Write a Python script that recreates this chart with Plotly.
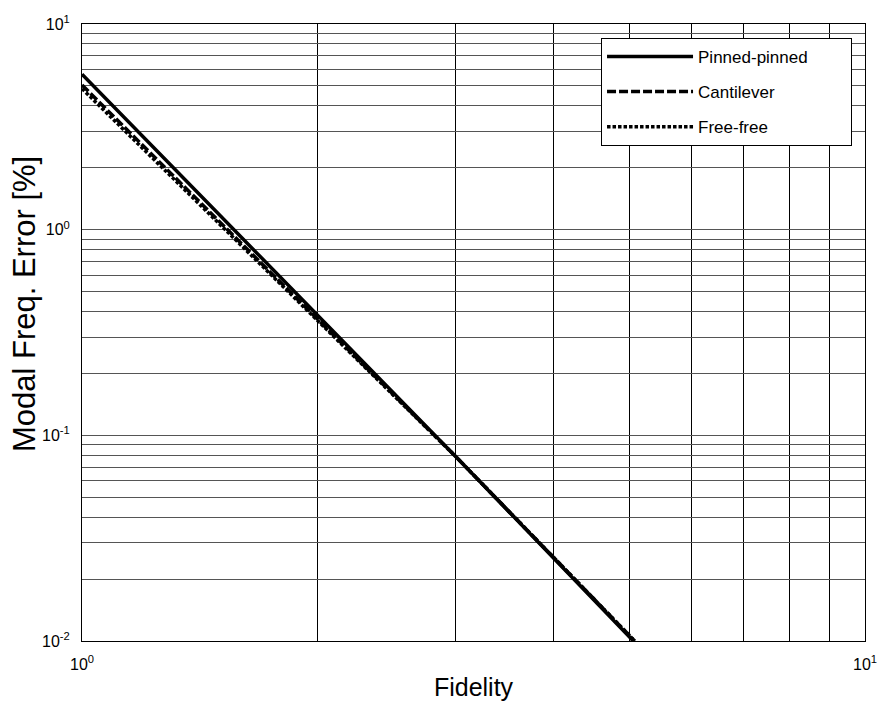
import plotly.graph_objects as go

# Data (log-log)
fidelity_pinned = [1.0, 2.0, 3.0, 5.06]
error_pinned = [5.7, 0.385, 0.079, 0.0100]

fidelity_cantilever = [1.0, 2.0, 3.0, 5.08]
error_cantilever = [5.05, 0.368, 0.079, 0.0100]

fidelity_free = [1.0, 2.0, 3.0, 5.08]
error_free = [4.85, 0.360, 0.079, 0.0100]

series_names = ["Pinned-pinned", "Cantilever", "Free-free"]

x_tickvals = [1, 10]
x_ticktext = ["10<sup>0</sup>", "10<sup>1</sup>"]

y_tickvals = [0.01, 0.1, 1, 10]
y_ticktext = ["10<sup>-2</sup>", "10<sup>-1</sup>", "10<sup>0</sup>", "10<sup>1</sup>"]

x_title = "Fidelity"
y_title = "Modal Freq. Error [%]"

font_family = "Liberation Sans, Arial, sans-serif"
pad = "\u00a0" * 8

fig = go.Figure()
fig.add_trace(go.Scatter(x=fidelity_pinned, y=error_pinned, mode="lines",
                         name=series_names[0] + pad, legendgroup="a",
                         line=dict(color="black", width=3.5, dash="solid")))
fig.add_trace(go.Scatter(x=fidelity_cantilever, y=error_cantilever, mode="lines",
                         name=series_names[1], legendgroup="b",
                         line=dict(color="black", width=3.5, dash="9px,3px")))
fig.add_trace(go.Scatter(x=fidelity_free, y=error_free, mode="lines",
                         name=series_names[2], legendgroup="c",
                         line=dict(color="black", width=3.5, dash="3.5px,2px")))

fig.update_layout(
    width=889, height=709,
    margin=dict(l=82, r=15, t=24, b=66),
    paper_bgcolor="white", plot_bgcolor="white",
    font=dict(family=font_family, color="black", size=16),
    showlegend=True,
    legend=dict(
        x=(607 - 82) / 792, y=(643 - 38) / 619, xanchor="left", yanchor="top",
        bgcolor="white", bordercolor="black", borderwidth=1,
        font=dict(size=17, family=font_family, color="black"),
        itemwidth=86, tracegroupgap=10,
    ),
    annotations=[dict(
        text=y_title, textangle=-90, showarrow=False,
        xref="paper", yref="paper", x=0, y=(643 - 305) / 619,
        xanchor="center", yanchor="middle", xshift=-58,
        font=dict(size=31, family=font_family, color="black"),
    )],
)

fig.update_xaxes(
    type="log", range=[0, 1],
    tickmode="array", tickvals=x_tickvals, ticktext=x_ticktext,
    showgrid=True, gridcolor="black", gridwidth=1,
    minor=dict(dtick="D1", showgrid=True, gridcolor="black", gridwidth=1, ticks=""),
    showline=True, linecolor="black", linewidth=1, mirror=True,
    ticks="", ticklabelstandoff=9, zeroline=False,
    tickfont=dict(size=16),
    title=dict(text=x_title, font=dict(size=25), standoff=6),
)
fig.update_yaxes(
    type="log", range=[-2, 1],
    tickmode="array", tickvals=y_tickvals, ticktext=y_ticktext,
    showgrid=True, gridcolor="#555555", gridwidth=1,
    minor=dict(dtick="D1", showgrid=True, gridcolor="#555555", gridwidth=1, ticks=""),
    showline=True, linecolor="black", linewidth=1, mirror=True,
    ticks="", ticklabelstandoff=8, zeroline=False,
    tickfont=dict(size=16),
)

fig.write_html("out.html")
